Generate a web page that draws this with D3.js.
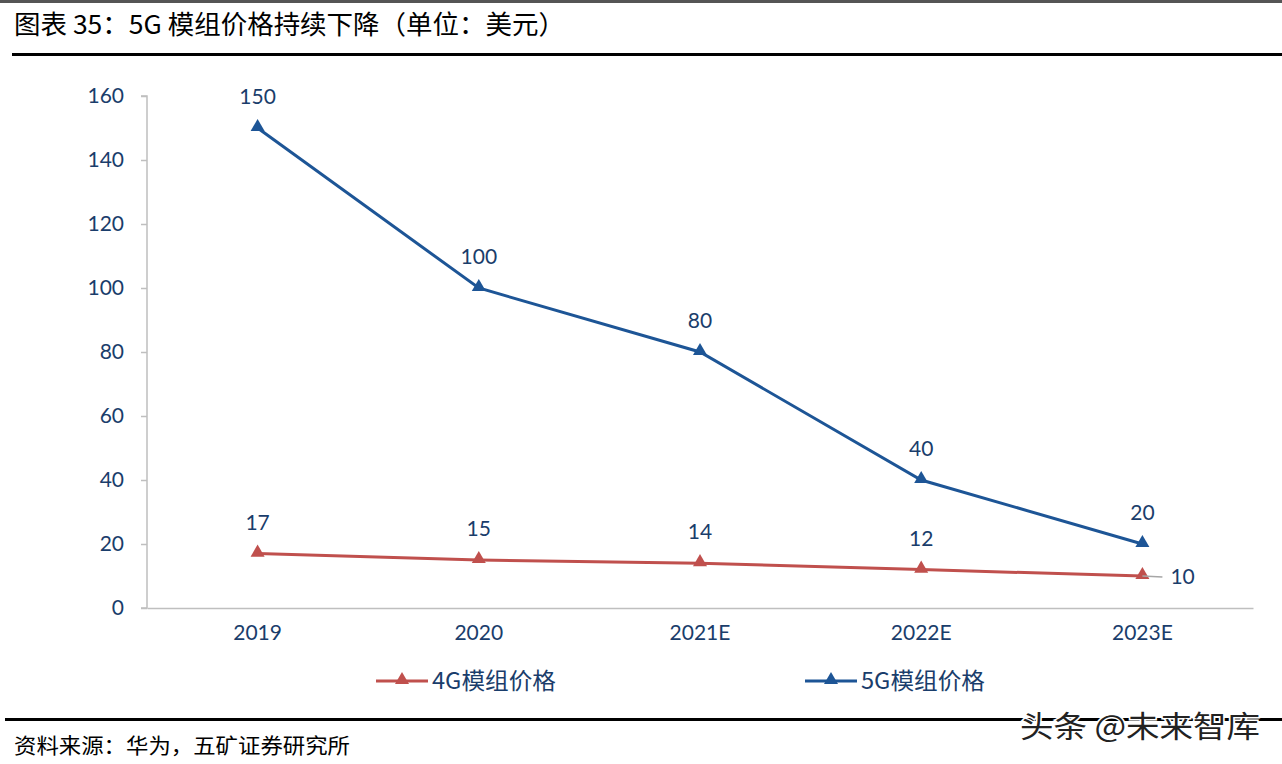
<!DOCTYPE html>
<html><head><meta charset="utf-8">
<script src="https://cdn.jsdelivr.net/npm/d3@7/dist/d3.min.js"></script>
<style>
body{margin:0;background:#fff;}
svg{display:block;}
</style></head>
<body>
<svg id="c" width="1282" height="764"></svg>
<script>
const categories = ["2019","2020","2021E","2022E","2023E"];
const series4G = [17,15,14,12,10];
const series5G = [150,100,80,40,20];
const yTicks = [0,20,40,60,80,100,120,140,160];
const seriesNames = ["4G模组价格","5G模组价格"];

const svg = d3.select("#c");
const W=1282,H=764;
const num = "'Lato','DejaVu Sans',sans-serif";
const cjk = "'Noto Sans CJK SC','Noto Sans',sans-serif";
const labelColor = "#1a3d6b";
const blue = "#1d5596", red = "#c0504d", axisGray = "#bfbfbf";

// top gray bar
svg.append("rect").attr("x",0).attr("y",0).attr("width",W).attr("height",3).attr("fill","#555");
// title
svg.append("text").attr("x",14).attr("y",34).attr("font-family",cjk).attr("font-size",26).attr("fill","#000")
  .attr("textLength",551).attr("lengthAdjust","spacingAndGlyphs")
  .text("图表 35：5G 模组价格持续下降（单位：美元）");
svg.append("rect").attr("x",12).attr("y",53).attr("width",W-12).attr("height",3).attr("fill","#000");

const x = d3.scaleBand().domain(categories).range([147,1253]);
const y = d3.scaleLinear().domain([0,160]).range([608,96]);

// y axis
const ya = svg.append("g").attr("transform","translate(147,0)")
  .call(d3.axisLeft(y).tickValues(yTicks).tickSize(6).tickPadding(17));
ya.select(".domain").attr("stroke",axisGray).attr("stroke-width",1.5).attr("d","M-6,96H0V608H-6");
ya.selectAll(".tick line").attr("stroke",axisGray).attr("stroke-width",1.5);
ya.selectAll(".tick text").attr("font-family",num).attr("font-size",21).attr("fill",labelColor);

// x axis
const xa = svg.append("g").attr("transform","translate(0,608)")
  .call(d3.axisBottom(x).tickSize(0).tickPadding(17));
xa.select(".domain").attr("stroke",axisGray).attr("stroke-width",1.5);
xa.selectAll(".tick text").attr("font-family",num).attr("font-size",21).attr("fill",labelColor);

const cx = d => x(d)+x.bandwidth()/2;
const tri = d3.symbol().type(d3.symbolTriangle).size(85);

function drawSeries(vals,color){
  const line = d3.line().x((d,i)=>cx(categories[i])).y(d=>y(d));
  svg.append("path").datum(vals).attr("d",line).attr("fill","none").attr("stroke",color).attr("stroke-width",3);
  svg.append("g").selectAll("path").data(vals).join("path")
    .attr("d",tri).attr("fill",color)
    .attr("transform",(d,i)=>`translate(${cx(categories[i])},${y(d)-1})`);
}
drawSeries(series4G,red);
drawSeries(series5G,blue);

// labels 5G
svg.append("g").selectAll("text").data(series5G).join("text")
  .attr("x",(d,i)=>cx(categories[i])).attr("y",d=>y(d)-24)
  .attr("text-anchor","middle").attr("font-family",num).attr("font-size",21).attr("fill",labelColor)
  .text(d=>d);
// labels 4G
svg.append("g").selectAll("text").data(series4G.slice(0,4)).join("text")
  .attr("x",(d,i)=>cx(categories[i])).attr("y",d=>y(d)-24)
  .attr("text-anchor","middle").attr("font-family",num).attr("font-size",21).attr("fill",labelColor)
  .text(d=>d);
const lx = cx(categories[4]), ly = y(series4G[4]);
svg.append("line").attr("x1",lx).attr("y1",ly).attr("x2",lx+20).attr("y2",ly+1).attr("stroke","#a6a6a6").attr("stroke-width",1.5);
svg.append("text").attr("x",lx+28).attr("y",ly+8).attr("font-family",num).attr("font-size",21).attr("fill",labelColor).text(series4G[4]);

// legend
const leg = [{n:seriesNames[0],c:red,x:376},{n:seriesNames[1],c:blue,x:805}];
leg.forEach(l=>{
  svg.append("line").attr("x1",l.x).attr("x2",l.x+52).attr("y1",681).attr("y2",681).attr("stroke",l.c).attr("stroke-width",3);
  svg.append("path").attr("d",tri).attr("fill",l.c).attr("transform",`translate(${l.x+26},680)`);
  svg.append("text").attr("x",l.x+56).attr("y",689).attr("font-family",cjk).attr("font-size",23).attr("fill",labelColor)
    .attr("textLength",124).attr("lengthAdjust","spacingAndGlyphs").text(l.n);
});

// bottom line and source
svg.append("rect").attr("x",5).attr("y",718).attr("width",W-5).attr("height",3).attr("fill","#000");
svg.append("text").attr("x",14).attr("y",753).attr("font-family",cjk).attr("font-size",21).attr("fill","#000")
  .attr("textLength",336).attr("lengthAdjust","spacingAndGlyphs").text("资料来源：华为，五矿证券研究所");
svg.append("text").attr("x",1020).attr("y",737).attr("font-family",cjk).attr("font-size",30).attr("fill","#222")
  .attr("stroke","#fff").attr("stroke-width",3).attr("paint-order","stroke")
  .attr("textLength",240).attr("lengthAdjust","spacingAndGlyphs").text("头条 @未来智库");
</script>
</body></html>
